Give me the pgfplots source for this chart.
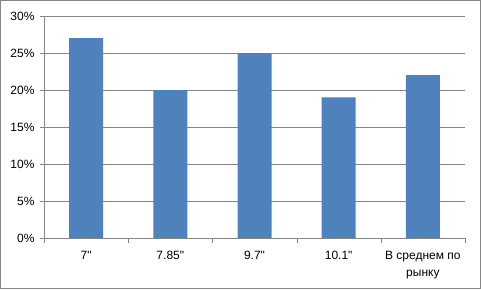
\documentclass[border=0pt]{standalone}
\usepackage{pgfplots}
\pgfplotsset{compat=1.18}
\usepackage{fontspec}
\setmainfont{Liberation Sans}
\definecolor{barblue}{HTML}{4F81BD}
\definecolor{gridgray}{HTML}{868686}
\begin{document}
\begin{tikzpicture}
\begin{axis}[
  at={(44pt,51pt)}, anchor=south west,
  scale only axis, width=421pt, height=222pt,
  xmin=0.5, xmax=5.5, ymin=0, ymax=30,
  axis x line*=bottom, axis y line*=left,
  axis line style={gridgray,-},
  xtick={1,2,3,4,5},
  xticklabels={7\textquotedbl,7.85\textquotedbl,9.7\textquotedbl,10.1\textquotedbl,{В среднем по\\рынку}},
  minor xtick={0.5,1.5,2.5,3.5,4.5,5.5},
  major x tick style={draw=none},
  minor x tick style={gridgray},
  minor tick length=5pt,
  major tick length=4pt,
  tick align=outside,
  ytick={0,5,10,15,20,25,30},
  ytick style={gridgray},
  yticklabel={\pgfmathprintnumber{\tick}\%},
  /pgf/number format/assume math mode=true,
  ymajorgrids, grid style={gridgray, line width=0.8pt},
  tick label style={font=\fontsize{12}{17}\selectfont, text=black},
  xticklabel style={align=center, anchor=north, yshift=-6pt},
  yticklabel style={xshift=-2pt},
]
\addplot[ybar, bar width=34pt, fill=barblue, draw=none] coordinates {(1,27) (2,20) (3,25) (4,19) (5,22)};
\end{axis}
\pgfresetboundingbox
\draw[gridgray, line width=1.2pt] (0.6pt,0.6pt) rectangle (480.4pt,288.4pt);
\path[use as bounding box] (0pt,0pt) rectangle (481pt,289pt);
\end{tikzpicture}
\end{document}
